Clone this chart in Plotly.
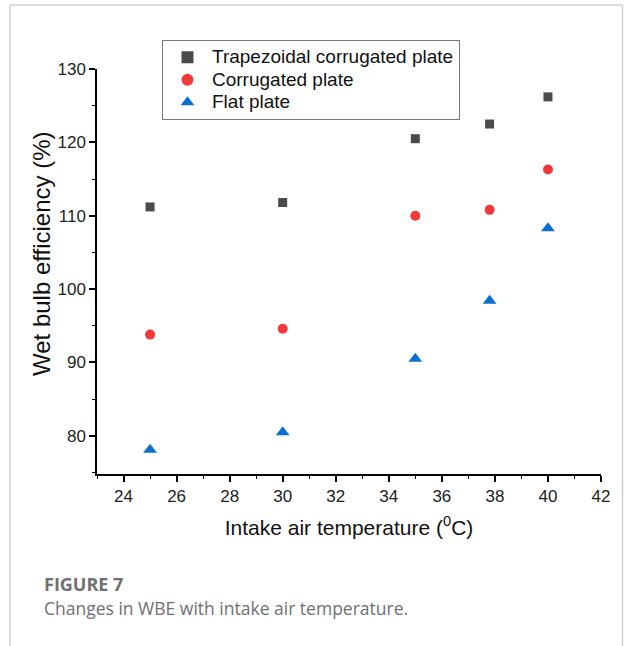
import plotly.graph_objects as go

temps = [25, 30, 35, 37.8, 40]
trapezoidal = [111.2, 111.8, 120.5, 122.5, 126.2]
corrugated = [93.8, 94.6, 110.0, 110.8, 116.3]
flat = [78.1, 80.5, 90.5, 98.4, 108.3]

series_names = ["Trapezoidal corrugated plate", "Corrugated plate", "Flat plate"]
x_ticks = [24, 26, 28, 30, 32, 34, 36, 38, 40, 42]
y_ticks = [80, 90, 100, 110, 120, 130]

W, H = 624, 646
L, R, T, B = 97, 601, 69, 474

def px_x(px):
    return (px - L) / (R - L)

def px_y(py):
    return (B - py) / (B - T)

def lg(name):
    return "<span style='font-size:19px'>" + name + "</span>"

fig = go.Figure()
fig.add_trace(go.Scatter(x=temps, y=trapezoidal, mode="markers", name=lg(series_names[0]),
                         marker=dict(symbol="square", size=9, color="#4a4a4a")))
fig.add_trace(go.Scatter(x=temps, y=corrugated, mode="markers", name=lg(series_names[1]),
                         marker=dict(symbol="circle", size=10, color="#f23a3a")))
fig.add_trace(go.Scatter(x=temps, y=flat, mode="markers", name=lg(series_names[2]),
                         marker=dict(symbol="triangle-up", size=12, color="#0a6fd0")))

axis_common = dict(showline=True, linecolor="black", linewidth=1.5, ticks="outside",
                   ticklen=6, tickwidth=1.5, tickcolor="black", showgrid=False, zeroline=False,
                   tickfont=dict(family="Liberation Sans, Arial", size=17, color="#222"))

fig.update_xaxes(range=[23, 42], tickvals=x_ticks,
                 minor=dict(dtick=1, tick0=23, ticks="outside", ticklen=3, tickwidth=1.2, tickcolor="black"),
                 title=dict(text="Intake air temperature (<sup>0</sup>C)", standoff=15,
                            font=dict(family="Liberation Sans, Arial", size=21, color="#111")),
                 **axis_common)
fig.update_yaxes(range=[74.8, 130], tickvals=y_ticks,
                 minor=dict(dtick=5, tick0=75, ticks="outside", ticklen=3, tickwidth=1.2, tickcolor="black"),
                 **axis_common)

# y-axis title placed as rotated text
fig.add_annotation(text="Wet bulb efficiency (%)", xref="paper", yref="paper",
                   x=px_x(41), y=px_y(254), xanchor="center", yanchor="middle", textangle=-90,
                   showarrow=False, font=dict(family="Liberation Sans, Arial", size=24, color="#111"))

# card border lines
for x0, y0, x1, y1 in [(10, 5, 10, 646), (10, 5, 622.5, 5), (622.5, 5, 622.5, 646)]:
    fig.add_shape(type="line", xref="paper", yref="paper",
                  x0=px_x(x0), y0=px_y(y0), x1=px_x(x1), y1=px_y(y1),
                  line=dict(color="#d0d0d0", width=1.5))

fig.add_annotation(text="<b>FIGURE 7</b>", xref="paper", yref="paper",
                   x=px_x(42), y=px_y(584), xanchor="left", yanchor="middle", showarrow=False,
                   font=dict(family="Open Sans", size=18, color="#707070"))
fig.add_annotation(text="Changes in WBE with intake air temperature.", xref="paper", yref="paper",
                   x=px_x(42), y=px_y(608), xanchor="left", yanchor="middle", showarrow=False,
                   font=dict(family="Open Sans", size=17.5, color="#707070"))

fig.update_layout(
    width=W, height=H, margin=dict(l=L, r=W - R, t=T, b=H - B),
    plot_bgcolor="white", paper_bgcolor="white",
    legend=dict(x=px_x(162), y=px_y(40), xanchor="left", yanchor="top",
                bordercolor="#777", borderwidth=1, bgcolor="white",
                font=dict(family="Liberation Sans, Arial", size=15, color="#111"),
                tracegroupgap=0, itemsizing="constant", itemwidth=39),
)

fig.write_html("out.html")
